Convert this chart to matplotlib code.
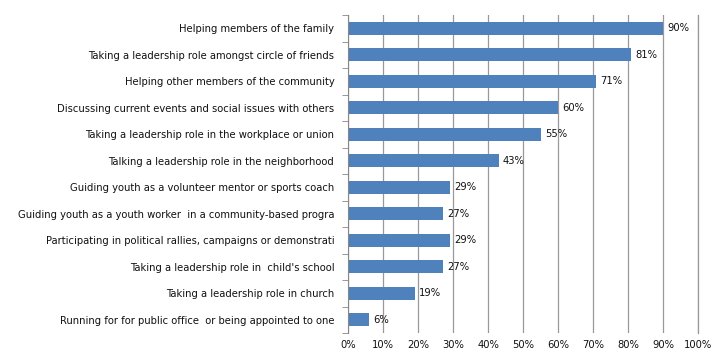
import matplotlib
matplotlib.use("Agg")
import matplotlib.pyplot as plt
from matplotlib.ticker import FixedLocator, PercentFormatter

categories = [
    "Helping members of the family",
    "Taking a leadership role amongst circle of friends",
    "Helping other members of the community",
    "Discussing current events and social issues with others",
    "Taking a leadership role in the workplace or union",
    "Talking a leadership role in the neighborhood",
    "Guiding youth as a volunteer mentor or sports coach",
    "Guiding youth as a youth worker  in a community-based progra",
    "Participating in political rallies, campaigns or demonstrati",
    "Taking a leadership role in  child's school",
    "Taking a leadership role in church",
    "Running for for public office  or being appointed to one",
]
values = [90, 81, 71, 60, 55, 43, 29, 27, 29, 27, 19, 6]
xticks = [0, 10, 20, 30, 40, 50, 60, 70, 80, 90, 100]

plt.rcParams['font.family'] = ['DejaVu Sans']
fig = plt.figure(figsize=(7.15, 3.52), dpi=100)
ax = fig.add_axes([0.487, 0.054, 0.489, 0.903])

n = len(categories)
ypos = list(range(n))
ax.barh(ypos, values, height=0.5, color="#4F81BD", zorder=3)
for y, v in zip(ypos, values):
    ax.text(v + 1.2, y, f"{v}%", va="center", ha="left", fontsize=7.2, color="#111111")

ax.set_ylim(n - 0.5, -0.5)
ax.set_xlim(0, 100)
ax.set_yticks(ypos)
ax.set_yticklabels(categories, fontsize=7.2, color="#111111")
ax.yaxis.set_minor_locator(FixedLocator([i - 0.5 for i in range(n + 1)]))
ax.tick_params(axis="y", which="major", length=0, pad=10)
ax.tick_params(axis="y", which="minor", length=4, color="#888888", direction="out")
ax.set_xticks(xticks)
ax.xaxis.set_major_formatter(PercentFormatter(decimals=0))
ax.tick_params(axis="x", length=0, labelsize=7.2, labelcolor="#111111", pad=5)
ax.grid(axis="x", color="#999999", linewidth=0.9, zorder=0)
for s in ["top", "bottom"]:
    ax.spines[s].set_visible(False)
ax.spines["right"].set_color("#999999")
ax.spines["right"].set_linewidth(0.9)
ax.spines["left"].set_color("#888888")
ax.spines["left"].set_zorder(4)

fig.savefig("out.png", dpi=100)
